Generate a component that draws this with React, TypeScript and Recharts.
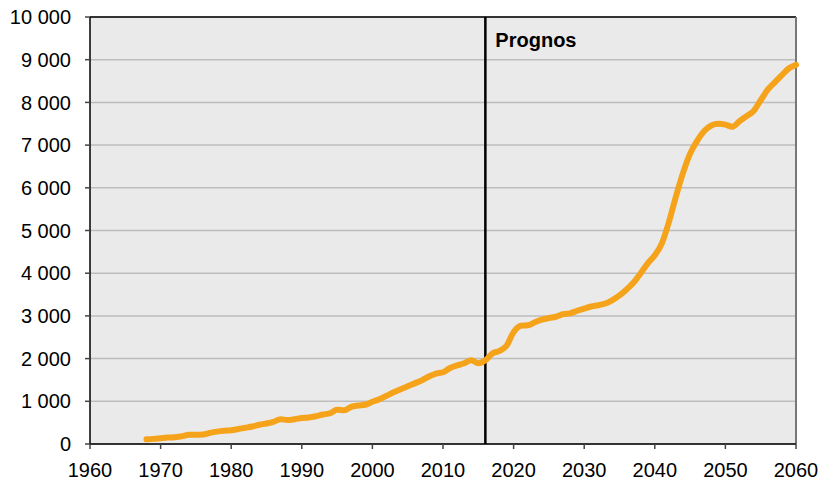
import {
  LineChart,
  Line,
  XAxis,
  YAxis,
  CartesianGrid,
  ReferenceLine,
} from 'recharts';

const years = [
  1968, 1969, 1970, 1971, 1972, 1973, 1974, 1975, 1976, 1977, 1978, 1979,
  1980, 1981, 1982, 1983, 1984, 1985, 1986, 1987, 1988, 1989, 1990, 1991,
  1992, 1993, 1994, 1995, 1996, 1997, 1998, 1999, 2000, 2001, 2002, 2003,
  2004, 2005, 2006, 2007, 2008, 2009, 2010, 2011, 2012, 2013, 2014, 2015,
  2016, 2017, 2018, 2019, 2020, 2021, 2022, 2023, 2024, 2025, 2026, 2027,
  2028, 2029, 2030, 2031, 2032, 2033, 2034, 2035, 2036, 2037, 2038, 2039,
  2040, 2041, 2042, 2043, 2044, 2045, 2046, 2047, 2048, 2049, 2050, 2051,
  2052, 2053, 2054, 2055, 2056, 2057, 2058, 2059, 2060,
];

const values = [
  110, 120, 135, 150, 160, 180, 215, 215, 220, 260, 290, 310,
  320, 350, 380, 410, 450, 480, 520, 580, 560, 580, 610, 620,
  650, 690, 720, 800, 790, 870, 900, 920, 990, 1050, 1130, 1210,
  1280, 1350, 1420, 1490, 1580, 1650, 1680, 1780, 1840, 1890, 1960, 1890,
  1960, 2120, 2180, 2300, 2620, 2770, 2780, 2850, 2910, 2950, 2980, 3040,
  3060, 3120, 3170, 3220, 3250, 3290, 3370, 3480, 3620, 3780, 4000, 4230,
  4420, 4700, 5200, 5800, 6350, 6800, 7100, 7330, 7460, 7500, 7480, 7430,
  7560, 7680, 7800, 8050, 8300, 8470, 8640, 8800, 8880,
];

const xTicks = [1960, 1970, 1980, 1990, 2000, 2010, 2020, 2030, 2040, 2050, 2060];
const yTicks = [0, 1000, 2000, 3000, 4000, 5000, 6000, 7000, 8000, 9000, 10000];

const forecastStart = 2016;
const forecastLabel = 'Prognos';

const data = years.map((year, i) => ({ year, value: values[i] }));

const FONT = '"Liberation Sans", Arial, sans-serif';

const formatThousands = (v: number) =>
  String(v).replace(/\B(?=(\d{3})+(?!\d))/g, ' ');

export default function App() {
  return (
    <div style={{ position: 'absolute', left: 0, top: 0, fontFamily: FONT }}>
      <LineChart
        width={822}
        height={482}
        data={data}
        margin={{ top: 17, right: 26, bottom: 0, left: 0 }}
      >
        <CartesianGrid
          vertical={false}
          stroke="#BDBDBD"
          strokeWidth={1.5}
          fill="#EAEAEA"
        />
        <XAxis
          dataKey="year"
          type="number"
          domain={[1960, 2060]}
          ticks={xTicks}
          height={38}
          tickSize={5}
          tickMargin={14}
          stroke="#000"
          strokeWidth={1.5}
          tick={{ fill: '#000', fontSize: 20, fontFamily: FONT }}
          tickLine={{ stroke: '#444' }}
        />
        <YAxis
          type="number"
          domain={[0, 10000]}
          ticks={yTicks}
          width={90}
          tickSize={5}
          tickMargin={14}
          stroke="#000"
          strokeWidth={1.5}
          tickFormatter={formatThousands}
          tick={{ fill: '#000', fontSize: 20, fontFamily: FONT }}
          tickLine={{ stroke: '#444' }}
        />
        <ReferenceLine y={10000} stroke="#000" strokeWidth={1.5} />
        <ReferenceLine x={2060} stroke="#777" strokeWidth={2} />
        <ReferenceLine
          x={forecastStart}
          stroke="#000"
          strokeWidth={2.5}
          label={(props: any) => {
            const vb = props.viewBox || {};
            return (
              <text
                x={(vb.x ?? 0) + 10}
                y={(vb.y ?? 0) + 30}
                fill="#000"
                fontSize={20}
                fontWeight="bold"
                fontFamily={FONT}
              >
                {forecastLabel}
              </text>
            );
          }}
        />
        <Line
          type="monotone"
          dataKey="value"
          stroke="#F5A31B"
          strokeWidth={6}
          strokeLinecap="round"
          strokeLinejoin="round"
          dot={false}
          activeDot={false}
          isAnimationActive={false}
        />
      </LineChart>
    </div>
  );
}
